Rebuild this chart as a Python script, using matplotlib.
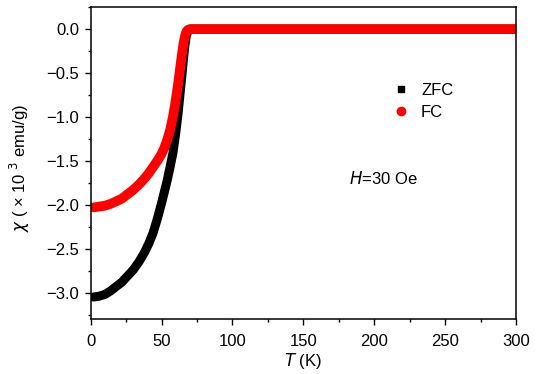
import numpy as np
import matplotlib
matplotlib.use("Agg")
import matplotlib.pyplot as plt
from matplotlib.lines import Line2D
from matplotlib.ticker import MultipleLocator, FuncFormatter

plt.rcParams['font.family'] = ['Liberation Sans', 'DejaVu Sans']

# data (T in K, chi in 1e-3 emu/g)
t_zfc = [2, 6, 10, 14, 18, 22, 26, 30, 34, 38, 41, 44, 47, 50, 52, 54, 56, 58, 60, 61.5,
         63, 64.5, 65.5, 66.5, 67.5, 69, 70.5, 72, 75, 100, 150, 200, 250, 300]
chi_zfc = [-3.05, -3.04, -3.02, -2.98, -2.93, -2.88, -2.81, -2.74, -2.65, -2.54, -2.44, -2.32,
           -2.16, -1.98, -1.85, -1.72, -1.57, -1.41, -1.18, -0.98, -0.74, -0.50, -0.33, -0.18,
           -0.07, -0.01, 0.0, 0.0, 0.0, 0.0, 0.0, 0.0, 0.0, 0.0]

t_fc = [2, 6, 10, 14, 18, 22, 26, 30, 34, 38, 41, 44, 47, 50, 52, 54, 56, 58, 59.5, 61,
        62.5, 64, 65.5, 66.5, 67.5, 68.5, 70, 72, 75, 100, 150, 200, 250, 300]
chi_fc = [-2.03, -2.02, -2.01, -1.99, -1.96, -1.93, -1.88, -1.83, -1.77, -1.70, -1.64, -1.57,
          -1.50, -1.42, -1.35, -1.26, -1.15, -1.00, -0.86, -0.70, -0.52, -0.33, -0.16, -0.08,
          -0.03, -0.01, 0.0, 0.0, 0.0, 0.0, 0.0, 0.0, 0.0, 0.0]

fig = plt.figure(figsize=(5.38, 3.74), dpi=100)
ax = fig.add_axes([0.1686, 0.147, 0.7904, 0.834])

ax.plot(t_zfc, chi_zfc, color='black', lw=6.5, solid_capstyle='round', solid_joinstyle='round')
ax.plot(t_fc, chi_fc, color='#ff0000', lw=7, solid_capstyle='round', solid_joinstyle='round')

ax.set_xlim(0, 300)
ax.set_ylim(-3.3, 0.25)
ax.xaxis.set_major_locator(MultipleLocator(50))
ax.xaxis.set_minor_locator(MultipleLocator(25))
ax.yaxis.set_major_locator(MultipleLocator(0.5))
ax.yaxis.set_minor_locator(MultipleLocator(0.25))
ax.yaxis.set_major_formatter(FuncFormatter(lambda v, p: '{:.1f}'.format(v).replace('-', '\u2212')))
ax.tick_params(which='major', direction='out', length=4.5, width=1, labelsize=12, pad=4)
ax.tick_params(which='minor', direction='out', length=2.5, width=1)
ax.tick_params(axis='x', which='major', pad=6)
ax.tick_params(top=False, right=False)
for s in ax.spines.values():
    s.set_linewidth(1.1)

ax.set_xlabel('$\\it{T}$ (K)', fontsize=12, labelpad=2)
ax.set_ylabel('$\\chi$ ( × 10 $^{3}$ emu/g)', fontsize=12)
ax.yaxis.set_label_coords(-0.138, 0.484)

handles = [Line2D([], [], ls='none', marker='s', color='black', markersize=5),
           Line2D([], [], ls='none', marker='o', color='#ff0000', markersize=6)]
ax.legend(handles, ['ZFC', 'FC'], loc='upper left', bbox_to_anchor=(0.675, 0.805),
          frameon=False, fontsize=12, handlelength=1.0, handletextpad=0.7, labelspacing=0.4)

ax.text(0.607, 0.452, '$\\it{H}$=30 Oe', transform=ax.transAxes, fontsize=12, va='center')

fig.savefig('out.png', dpi=100)
